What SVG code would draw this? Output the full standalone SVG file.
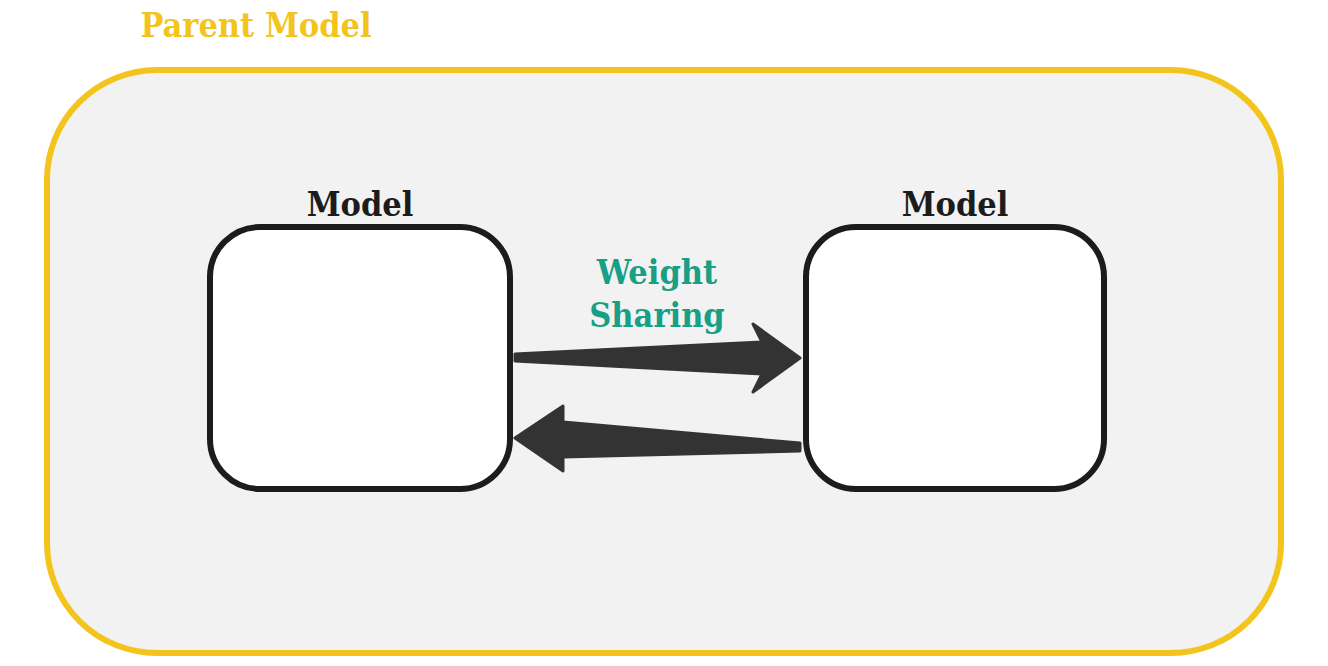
<svg xmlns="http://www.w3.org/2000/svg" width="1328" height="666" viewBox="0 0 1328 666">
<style>
.lbl{font-family:"DejaVu Serif Condensed","DejaVu Serif","Liberation Serif",serif;font-stretch:condensed;font-weight:bold;font-size:34px;text-anchor:middle}
.model{fill:#fff;stroke:#1c1c1c;stroke-width:6}
.arrow{fill:#333;stroke:#333;stroke-width:3;stroke-linejoin:round}
</style>
<rect width="1328" height="666" fill="#fff"/>
<g id="parent">
<rect x="47" y="70" width="1234" height="583" rx="110" fill="#f2f2f2" stroke="#f2c41c" stroke-width="6"/>
<text x="256" y="37" class="lbl" fill="#f2c41c">Parent Model</text>
</g>
<g id="model-left">
<rect class="model" x="210" y="227" width="300" height="262" rx="50"/>
<text x="360" y="216" class="lbl" fill="#1c1c1c">Model</text>
</g>
<g id="model-right">
<rect class="model" x="806" y="227" width="298" height="262" rx="50"/>
<text x="955" y="216" class="lbl" fill="#1c1c1c">Model</text>
</g>
<g id="connectors">
<polygon class="arrow" points="515,354 762,342 753,324 800,358 753,392 762,374 515,361"/>
<polygon class="arrow" points="800,443 563,422 563,406 515,438 563,471 563,457 800,451"/>
<text x="657" y="284" class="lbl" fill="#17a085">Weight</text>
<text x="657" y="327" class="lbl" fill="#17a085">Sharing</text>
</g>
</svg>
